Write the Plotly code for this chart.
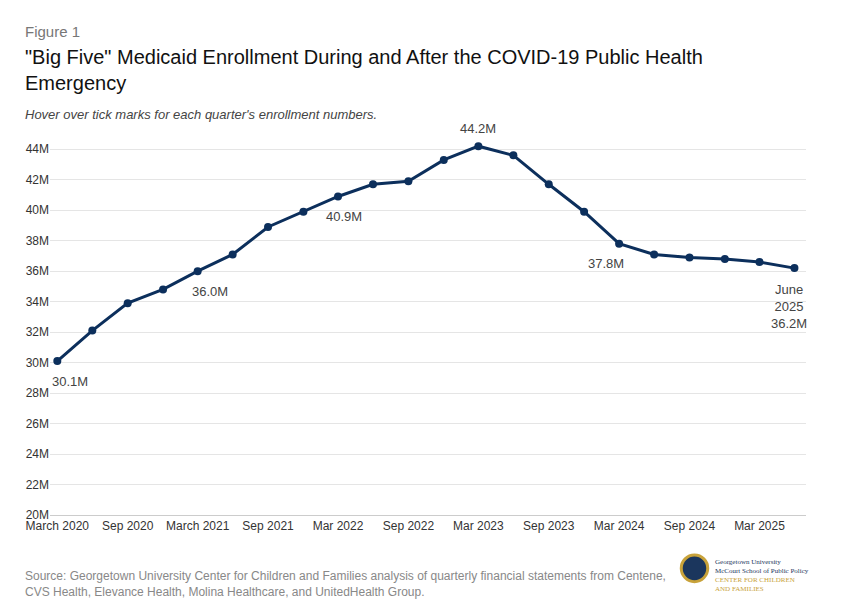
import plotly.graph_objects as go

dates = ["2020-03-31","2020-06-30","2020-09-30","2020-12-31","2021-03-31","2021-06-30","2021-09-30","2021-12-31",
         "2022-03-31","2022-06-30","2022-09-30","2022-12-31","2023-03-31","2023-06-30","2023-09-30","2023-12-31",
         "2024-03-31","2024-06-30","2024-09-30","2024-12-31","2025-03-31","2025-06-30"]
values = [30.1,32.1,33.9,34.8,36.0,37.1,38.9,39.9,40.9,41.7,41.9,43.3,44.2,43.6,41.7,39.9,37.8,37.1,36.9,36.8,36.6,36.2]
tick_dates = ["2020-03-31","2020-09-30","2021-03-31","2021-09-30","2022-03-31","2022-09-30","2023-03-31","2023-09-30","2024-03-31","2024-09-30","2025-03-31"]
tick_text = ["March 2020","Sep 2020","March 2021","Sep 2021","Mar 2022","Sep 2022","Mar 2023","Sep 2023","Mar 2024","Sep 2024","Mar 2025"]
labels = {0:("30.1M",13,-20),4:("36.0M",12,-20),8:("40.9M",6,-20),12:("44.2M",0,18),16:("37.8M",-13,-20),21:("June<br>2025<br>36.2M",-5,-38)}

fig = go.Figure(go.Scatter(x=dates, y=values, mode="lines+markers",
    line=dict(color="#0c2f5c", width=3), marker=dict(size=8, color="#0c2f5c"),
    hovertemplate="%{x|%b %Y}: %{y:.1f}M<extra></extra>"))
for i,(t,dx,dy) in labels.items():
    fig.add_annotation(x=dates[i], y=values[i], text=t, showarrow=False, xshift=dx, yshift=dy,
                       font=dict(size=13, color="#444"))
fig.update_layout(width=848, height=599, plot_bgcolor="white", paper_bgcolor="white",
    margin=dict(l=42, r=50, t=126, b=92), showlegend=False,
    font=dict(family="Liberation Sans, Arial", color="#333"),
    xaxis=dict(tickvals=tick_dates, ticktext=tick_text, range=["2020-03-12","2025-07-30"],
               showgrid=False, showline=True, linecolor="#ccc", tickfont=dict(size=12, color="#333")),
    yaxis=dict(range=[20,45], tickvals=list(range(20,45,2)), ticktext=[f"{v}M" for v in range(20,45,2)],
               gridcolor="#e5e5e5", tickfont=dict(size=12, color="#333"), zeroline=False))
X0 = -0.036
fig.add_annotation(xref="paper", yref="paper", x=X0, y=1.0, yshift=92, xanchor="left", yanchor="bottom",
    text="Figure 1", showarrow=False, font=dict(size=15, color="#777"))
fig.add_annotation(xref="paper", yref="paper", x=X0, y=1.0, yshift=38, xanchor="left", yanchor="bottom", align="left",
    text="\"Big Five\" Medicaid Enrollment During and After the COVID-19 Public Health<br>Emergency", showarrow=False,
    font=dict(size=20, color="#111"))
fig.add_annotation(xref="paper", yref="paper", x=X0, y=1.0, yshift=10, xanchor="left", yanchor="bottom",
    text="<i>Hover over tick marks for each quarter's enrollment numbers.</i>", showarrow=False, font=dict(size=13, color="#444"))
fig.add_annotation(xref="paper", yref="paper", x=X0, y=0, yshift=-86, xanchor="left", yanchor="bottom", align="left",
    text="Source: Georgetown University Center for Children and Families analysis of quarterly financial statements from Centene,<br>CVS Health, Elevance Health, Molina Healthcare, and UnitedHealth Group.",
    showarrow=False, font=dict(size=12, color="#888"))
fig.add_shape(type="circle", xref="paper", yref="paper", x0=0.835, x1=0.87, y0=-0.175, y1=-0.105,
    line=dict(color="#c8a23a", width=3), fillcolor="#1b365d")
fig.add_annotation(xref="paper", yref="paper", x=0.877, y=0, yshift=-80, xanchor="left", yanchor="bottom", align="left",
    text="<span style='color:#1b365d'>Georgetown University<br>McCourt School of Public Policy</span><br><span style='color:#c8a23a'>CENTER FOR CHILDREN<br>AND FAMILIES</span>",
    showarrow=False, font=dict(size=7, family="Liberation Serif"))
fig.write_html("out.html")
